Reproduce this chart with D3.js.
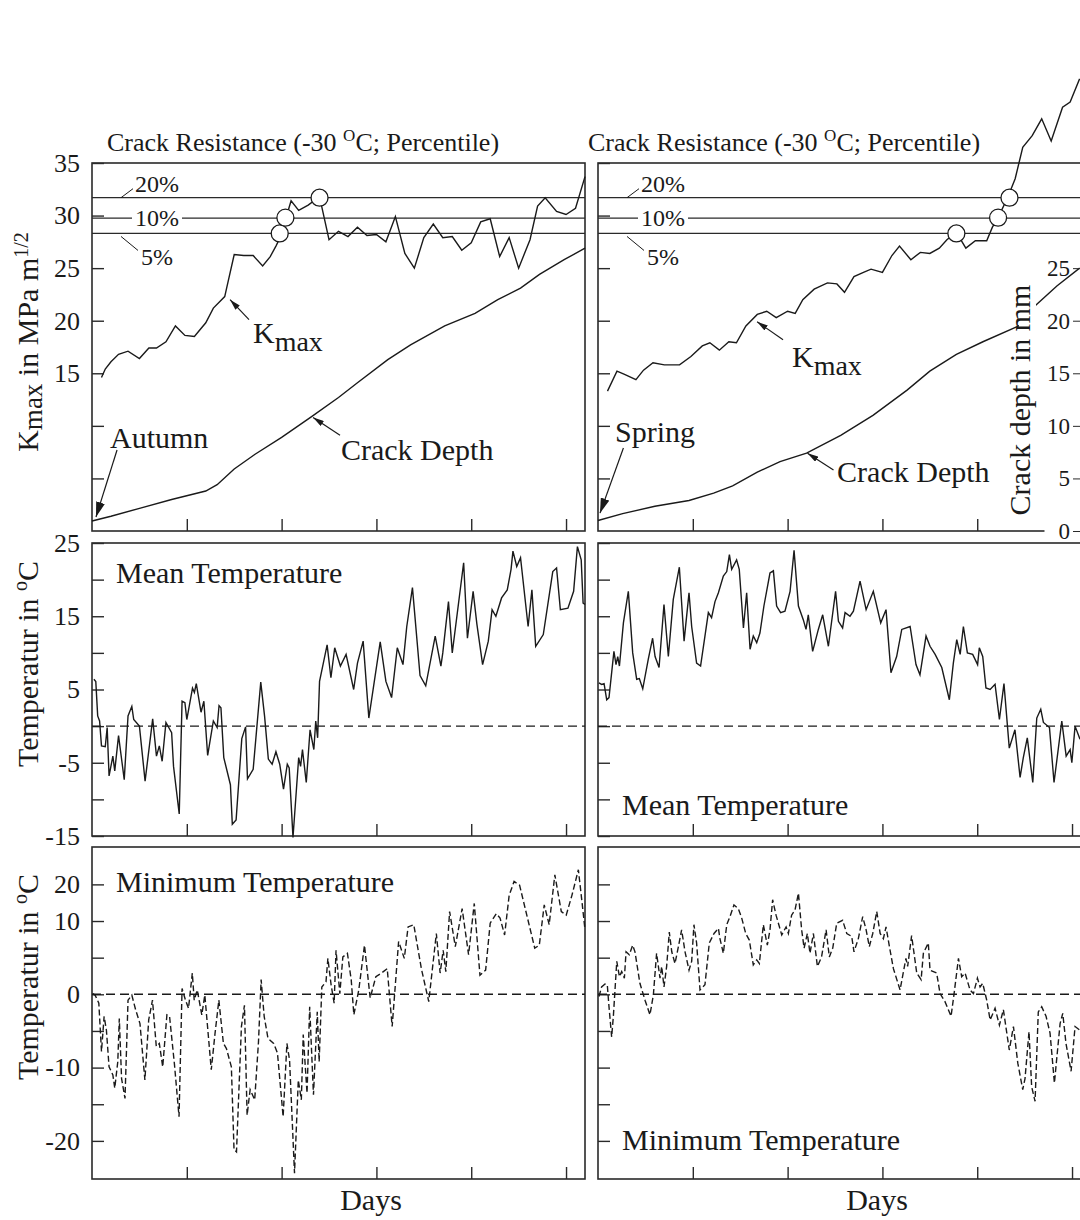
<!DOCTYPE html>
<html>
<head>
<meta charset="utf-8">
<script src="https://cdn.jsdelivr.net/npm/d3@7"></script>
<style>
  body { margin: 0; background: #fff; }
  svg { display: block; font-family: "Liberation Serif", "Times New Roman", serif; }
  text { fill: #1a1a1a; }
</style>
</head>
<body>
<svg id="chart"></svg>
<script>
"use strict";

// ---- values: [day, value] ----
var dayTicks = [50, 100, 150, 200, 250];

var percentiles = [
  { label: "20%", value: 31.7 },
  { label: "10%", value: 29.75 },
  { label: "5%", value: 28.3 }
];

var kmaxTicks = [5, 10, 15, 20, 25, 30, 35];
var kmaxTickLabels = ["", "", "15", "20", "25", "30", "35"];
var crackTicks = [0, 5, 10, 15, 20, 25];
var meanTicks = [-15, -10, -5, 0, 5, 10, 15, 20, 25];
var meanTickLabels = ["-15", "", "-5", "", "5", "", "15", "", "25"];
var minTicks = [-20, -15, -10, -5, 0, 5, 10, 15];
var minTickLabels = ["-20", "", "-10", "", "0", "", "10", "20"];

var kmaxAutumn = [[5,14.6],[7,15.4],[10,16.1],[14,16.8],[19,17.1],[25,16.4],[30,17.4],[34,17.4],[39,18.0],[44,19.5],[49,18.6],[54,18.5],[60,19.8],[64,21.2],[70,22.3],[71,23.1],[75,26.3],[80,26.2],[85,26.2],[90,25.2],[94,26.1],[97,27.1],[100,28.2],[102,29.6],[105,31.4],[109,30.5],[114,31.0],[120,31.8],[125,27.7],[130,28.5],[135,28.0],[140,28.9],[145,28.1],[150,28.2],[155,27.5],[160,29.9],[165,26.4],[170,25.0],[175,27.9],[180,29.2],[185,27.9],[190,28.0],[195,26.7],[200,27.4],[205,29.4],[210,29.7],[215,26.1],[220,27.9],[225,25.0],[231,27.7],[235,30.9],[239,31.7],[245,30.4],[250,30.1],[255,30.7],[260,33.7]];
var crackAutumn = [[0,0.95],[10,1.4],[26,2.2],[42,3.0],[60,3.8],[66,4.4],[75,5.9],[86,7.3],[100,8.9],[116,10.9],[130,12.7],[140,14.1],[156,16.3],[168,17.7],[186,19.5],[202,20.7],[214,22.0],[226,23.1],[236,24.4],[249,25.8],[260,26.9]];
var hitsAutumn = [[99,28.3],[102,29.8],[120,31.7]];

var kmaxSpring = [[5,13.3],[10,15.2],[14,14.9],[20,14.4],[24,15.3],[29,16.0],[35,15.8],[43,15.8],[49,16.6],[55,17.6],[59,17.9],[64,17.2],[69,18.0],[73,17.9],[78,19.5],[84,20.6],[89,20.9],[94,20.3],[100,20.9],[104,20.7],[108,22.0],[114,23.0],[121,23.6],[126,23.5],[130,22.7],[135,24.2],[140,24.6],[144,24.9],[150,24.6],[155,26.2],[159,27.1],[165,25.8],[170,26.5],[175,26.4],[180,26.9],[184,27.7],[189,28.4],[194,26.9],[199,27.6],[205,27.6],[208,28.9],[211,29.8],[216,31.7],[220,33.5],[224,36.5],[229,37.6],[234,39.2],[239,37.1],[245,40.3],[249,40.8],[254,43.0]];
var crackSpring = [[0,1.0],[13,1.65],[30,2.35],[48,2.9],[61,3.6],[71,4.3],[84,5.6],[96,6.6],[110,7.4],[128,9.1],[145,11.0],[163,13.4],[175,15.2],[189,16.8],[203,18.0],[223,19.6],[231,21.5],[242,23.3],[254,25.0]];
var hitsSpring = [[189,28.3],[211,29.8],[217,31.7]];

var meanAutumn = [[1,6.4],[2,6.1],[3,1.4],[4,0.7],[5,-2.7],[7,-2.8],[8,-0.2],[9,-6.8],[11,-4.1],[12,-6.1],[14,-1.3],[17,-7.3],[19,1.4],[21,2.7],[22,0.9],[25,0],[28,-7.5],[32,1.0],[34,-4.1],[35.5,-2.7],[37,-4.8],[39,0.5],[42,-0.9],[43,-5.5],[46,-12],[47.5,3.4],[49,3.2],[50,0.9],[53,5.2],[54,4.6],[55,5.8],[57.5,1.9],[59,3.4],[61,-4],[64,0.7],[66,-0.2],[67,2.8],[68,2.5],[69.5,-4.3],[73,-8],[74,-13.4],[76,-12.8],[79,-1.7],[81,-0.1],[82,-7.2],[85,-5.9],[89,6.0],[91,1.4],[93,-4.5],[95,-5.2],[97,-3.5],[99,-5.2],[101,-8.6],[103,-5.2],[104,-5.7],[106,-15.2],[109,-4.3],[110,-5.5],[111,-3.2],[113,-7.7],[115,-0.5],[117,-3.2],[118,0.7],[119,-1.6],[120,6.1],[122,8.6],[124,11.1],[126,6.6],[128,10.7],[131,8.2],[134,9.8],[138,5],[140,8.6],[143,11.6],[146,1.1],[152,11.5],[155,6.1],[158,3.9],[161,10.7],[164,8.4],[166,13.6],[169,18.9],[173,6.9],[176,5.5],[181,12.3],[184,8.2],[185,10.0],[188,17],[190,10],[196,22.3],[198,12],[201,18.4],[203,13.9],[206,8.4],[209,11.6],[211,15.9],[213,15],[216,17.5],[219,18.6],[221,21.4],[222,23.9],[224,21.8],[226,23],[230,13.6],[232,18.6],[234,10.9],[238,12.5],[243,21.1],[245,21.6],[247,15.9],[251,16.1],[254,18.4],[256,24.5],[258,22.7],[259,16.8],[260,16.6]];

var minAutumn = [[0.4,0.1],[1.6,-0.1],[3.6,-1.2],[5,-7.8],[6.4,-3],[7.6,-4.9],[9,-9.9],[11,-11],[12,-12.8],[13.6,-9.2],[14.4,-3.3],[15.6,-11.5],[17.4,-14.2],[19,-0.8],[21,-0.1],[23,-2.1],[25.3,-4],[27.9,-11.7],[29.9,-3.5],[31.9,-0.8],[33.9,-7.1],[35.5,-6.7],[37.3,-9.9],[39.5,-2.8],[40.9,-3.0],[43.5,-9.6],[45.9,-16.7],[47.5,0.8],[49.3,-0.8],[50.9,-1.9],[52.9,2.9],[53.9,-0.8],[55.5,0.6],[57.9,-2.8],[59.5,-0.1],[62.9,-10.3],[64.9,-5.3],[66.9,-0.8],[69.3,-6.7],[70.9,-7.4],[73.5,-9.9],[74.9,-21.2],[76.2,-21.5],[78.8,-4.4],[80.4,-1.5],[81.8,-16.5],[83.4,-13],[85.8,-14.4],[87.8,-6.5],[89.2,2.0],[90.8,-3.0],[92.8,-6],[95.8,-6.7],[97.8,-8],[100.8,-16.7],[102.8,-6.7],[104.2,-9],[106.8,-24.4],[108.8,-11.7],[110.4,-14.4],[111.4,-5.5],[113.4,-13.5],[114.8,-1.7],[116.8,-13.7],[118.8,-2.4],[119.8,-9.2],[121.2,1.0],[123.4,1.7],[124.4,4.9],[126.1,1.3],[127.7,-1.2],[128.7,6.0],[130.7,0.1],[132.3,5.1],[134.7,5.6],[136.7,2.0],[138.1,-2.8],[140.7,0.6],[143.7,6.7],[146.7,-0.5],[149.7,2.4],[152.7,2.9],[155.7,3.5],[158.3,-4.4],[161.7,7.2],[164.7,4.9],[166.7,9.2],[169.7,9.5],[173.7,3.5],[177.6,-1.0],[181.6,8.3],[183.6,2.9],[185.2,6.0],[186.6,3.1],[188.6,11.3],[191.6,6.5],[195.2,11.7],[198.6,5.4],[201.6,12.4],[204.6,2.6],[207.6,3.3],[210,9.7],[213.2,11],[215.2,10.4],[217.6,8.1],[220,13.5],[222.6,15.4],[225.5,14.9],[229.5,10.6],[233.5,6.3],[235.9,6.7],[238.5,12.2],[241.1,9.5],[244.1,16.3],[247.5,11.3],[250.1,10.8],[253.1,13.5],[256.5,17],[258.5,12.4],[260,8.8]];

var meanSpring = [[0.5,5.9],[1.9,5.7],[3.2,5.8],[4.6,3.6],[5.8,3.9],[8.4,10.2],[9.5,8.4],[10.4,9.5],[11.3,8.2],[13.4,14.1],[16,18.4],[18.3,10],[20.4,6.4],[21.8,6.5],[23.6,5.1],[26.5,9.1],[28.8,12],[30.1,9.5],[32.2,8],[34.8,16.6],[37.1,9.5],[39.7,17.3],[42.9,21.7],[45.4,11.6],[48,18.2],[49.4,13.6],[52,8.6],[54.1,8.2],[56.4,12.3],[58.2,15.5],[59.9,14.8],[61.7,17],[63.5,18.2],[66.1,20.5],[67.9,21.1],[69.3,23.4],[70.5,21.4],[73.1,22.7],[74.5,21.4],[76.7,13.4],[78.4,18.2],[80.2,10.5],[81.9,12.3],[83.7,11.4],[85.4,12.7],[87.5,16.4],[90.7,20.9],[92.5,21.2],[94.2,16.4],[96.3,15.5],[98.6,15.7],[101.3,18.4],[103.4,24],[105.7,16.4],[108.3,14.5],[109.7,13.2],[110.9,15.2],[113.2,10.2],[116.2,13.2],[118.5,15.2],[121.5,10.9],[125.3,18.4],[126.8,14.3],[129,13.4],[130.3,15.5],[132.9,15],[134.7,15.7],[138.2,19.8],[141.4,15.9],[145.2,18.4],[149.1,14.1],[151.9,15.9],[154.5,7.3],[157.5,9.5],[160.2,13.2],[164.6,13.6],[167.7,8.4],[169.8,7.0],[173,12.3],[175.1,10.9],[177.8,9.8],[181.3,8],[185.3,3.6],[187.4,8.6],[189.2,11.8],[191,9.8],[192.7,13.6],[194.8,10],[197.6,9.8],[200.2,8.4],[201.1,10.7],[202.9,9.5],[204.6,5.2],[206.8,5],[209.4,5.7],[211.7,0.9],[214.1,5.8],[216.9,-3],[219.9,-0.5],[222.6,-7],[224.3,-4.3],[226.4,-1.6],[229.3,-7.7],[231.4,1.1],[233.5,2.3],[234.9,0.5],[238.1,-0.2],[240.5,-7.7],[244.6,0.7],[246.9,-4.1],[249,-3.2],[249.9,-5],[251.6,0],[254.2,-1.8]];

var minSpring = [[0.5,-0.3],[1.9,1.0],[3.7,1.4],[4.9,1.3],[5.8,-1.7],[7.2,-5.8],[8.1,-3],[9.9,4.5],[11.3,2.4],[12.5,3.1],[13.9,2.2],[14.8,5.8],[16.5,5.4],[18.3,6.7],[19.5,5.8],[22.1,1.5],[24.8,-0.8],[27.4,-2.8],[29.2,-0.1],[30.9,5.6],[32.7,2.2],[33.6,3.8],[34.8,1.0],[36.2,3.8],[37.6,8.5],[38.9,5.8],[40.6,4.2],[42.4,6.5],[44.1,8.8],[45.9,5.8],[48,3.3],[49.4,4.5],[50.6,9.5],[52,7],[53.8,0.6],[56.4,1.3],[58.7,7],[61.2,8.3],[63.5,9],[64.3,7.6],[66.1,5.6],[67.9,9.5],[69.6,10.6],[71.7,12.2],[74,11.7],[75.8,10.4],[77.9,8.3],[79.8,7.4],[81.9,4],[83.7,4.7],[85.1,4.2],[87.2,9.5],[89.3,6.7],[90.7,8.8],[92.1,12.9],[93.9,10.8],[96.9,8.1],[99.2,9.2],[100.4,8.3],[102.1,10.8],[103.9,11.5],[105.7,13.8],[107.4,8.8],[108.7,6.3],[110.4,8.3],[111.8,5.6],[113.6,8.3],[115.7,3.8],[117.9,5.1],[120.3,8.8],[122,5.1],[123.8,6.3],[125.9,9.7],[129,10.1],[131.2,8.3],[133.8,7.9],[135,5.8],[137.3,7.6],[139.6,10.6],[141.4,8.8],[143.1,6.5],[144.9,8.3],[147,11.3],[148.8,8.3],[150.5,7.6],[151.9,9.2],[153.7,6.5],[155.8,3.5],[159.3,0.6],[162.4,4.9],[163.3,3.8],[165.4,8],[168.1,2.9],[170.4,2.0],[171.6,5.6],[174.2,7],[175.1,3.3],[178.6,2.9],[180.4,0.1],[183,-1.0],[186.2,-3],[187.8,0.1],[190.1,4.9],[191.8,2.4],[193.6,2.9],[196.2,0.6],[198,0.1],[200.1,2.2],[201.5,1.0],[202.9,1.5],[205,-0.8],[206.8,-3.5],[209.4,-1.9],[211.7,-4.2],[213.8,-2.1],[216.9,-7.6],[219.1,-4.4],[221.4,-9.4],[224,-13],[225.2,-11.5],[227.3,-5.1],[228.7,-12.6],[230.5,-14.6],[232.2,-2.4],[234,-1.7],[236.3,-3],[238.4,-5.3],[240.7,-12.1],[243.7,-4.0],[245.1,-2.6],[246.8,-6.7],[249.5,-10.5],[251.6,-4.4],[254.2,-4.9]];

// ---- layout ----
var W = 1080, H = 1220, colW = 493;
var ink = "#1a1a1a";

var svg = d3.select("#chart").attr("width", W).attr("height", H);

var yK = d3.scaleLinear().domain([0, 35]).range([531, 163]);
var yMean = d3.scaleLinear().domain([-15, 25]).range([836, 543]);
var yMin = d3.scaleLinear().domain([-25.2, 20.1]).range([1179, 847]);

var defs = svg.append("defs");
function addArrow(id, len, wid) {
  defs.append("marker").attr("id", id)
    .attr("markerUnits", "userSpaceOnUse")
    .attr("viewBox", "0 0 " + len + " " + wid)
    .attr("refX", len).attr("refY", wid / 2)
    .attr("markerWidth", len).attr("markerHeight", wid)
    .attr("orient", "auto")
    .append("path")
    .attr("d", "M0,0L" + len + "," + wid / 2 + "L0," + wid + "Z")
    .attr("fill", ink);
}
addArrow("arrowSmall", 11, 6);
addArrow("arrowBig", 15, 9);

var columns = [
  { x0: 92, labels: true, titleX: 107, kmax: kmaxAutumn, crack: crackAutumn, hits: hitsAutumn,
    mean: meanAutumn, min: minAutumn, labelsOnTop: true,
    season: { text: "Autumn", at: [9.5, 7.9], from: [13.2, 7.7], to: [2.1, 1.33] },
    kNote: { at: [84.9, 17.9], from: [82.8, 20.1], to: [72.8, 22.0] },
    cNote: { at: [131.3, 6.75], from: [130.8, 9.1], to: [116.6, 10.8] } },
  { x0: 598, labels: false, titleX: 588, kmax: kmaxSpring, crack: crackSpring, hits: hitsSpring,
    mean: meanSpring, min: minSpring, labelsOnTop: false,
    season: { text: "Spring", at: [9, 8.5], from: [13.4, 7.9], to: [1.05, 1.7] },
    kNote: { at: [102.3, 15.6], from: [97.6, 18.2], to: [83.9, 19.9] },
    cNote: { at: [126.1, 4.66], from: [124.2, 5.8], to: [110.5, 7.4] } }
];

function frame(g, x, y) {
  g.append("rect")
    .attr("x", x.range()[0]).attr("y", y.range()[1])
    .attr("width", x.range()[1] - x.range()[0])
    .attr("height", y.range()[0] - y.range()[1])
    .attr("fill", "none").attr("stroke", "#2a2a2a").attr("stroke-width", 1.6);
}

function axes(g, x, y, ticks, labels, showLabels) {
  g.append("g")
    .attr("transform", "translate(" + x.range()[0] + ",0)")
    .call(d3.axisLeft(y).tickValues(ticks).tickSize(-12).tickPadding(12)
      .tickFormat(function (d, i) { return showLabels ? labels[i] : ""; }))
    .call(function (a) { a.select(".domain").remove(); })
    .attr("font-size", 26).attr("font-family", null).attr("color", "#2a2a2a")
    .selectAll("line").attr("stroke-width", 1.4);

  g.append("g")
    .attr("transform", "translate(0," + y.range()[0] + ")")
    .call(d3.axisBottom(x).tickValues(dayTicks).tickSize(-12).tickFormat(""))
    .call(function (a) { a.select(".domain").remove(); })
    .attr("color", "#2a2a2a")
    .selectAll("line").attr("stroke-width", 1.4);
}

function note(g, x, y, from, to, marker) {
  g.append("line")
    .attr("x1", x(from[0])).attr("y1", y(from[1]))
    .attr("x2", x(to[0])).attr("y2", y(to[1]))
    .attr("stroke", ink).attr("stroke-width", 1.2)
    .attr("marker-end", "url(#" + marker + ")");
}

columns.forEach(function (col) {
  var g = svg.append("g");
  var x = d3.scaleLinear().domain([0, 260]).range([col.x0, col.x0 + colW]);
  var line = function (y) {
    return d3.line().x(function (d) { return x(d[0]); }).y(function (d) { return y(d[1]); });
  };

  // ===== top panel: Kmax and crack depth =====
  g.append("text")
    .attr("x", col.titleX).attr("y", 151)
    .attr("font-size", 26)
    .call(function (t) {
      t.append("tspan").text("Crack Resistance (-30 ");
      t.append("tspan").attr("font-size", 17).attr("dy", -10).text("O");
      t.append("tspan").attr("dy", 10).text("C; Percentile)");
    });

  frame(g, x, yK);
  axes(g, x, yK, kmaxTicks, kmaxTickLabels, col.labels);

  var xEnd = col.labels ? x.range()[1] : W;
  g.selectAll(".pct").data(percentiles).enter().append("line")
    .attr("x1", x.range()[0]).attr("x2", xEnd)
    .attr("y1", function (d) { return yK(d.value); })
    .attr("y2", function (d) { return yK(d.value); })
    .attr("stroke", "#2a2a2a").attr("stroke-width", 1.3);

  var x0 = col.x0;
  percentiles.forEach(function (p) {
    var py = yK(p.value);
    if (p.label === "20%") {
      g.append("line").attr("x1", x0 + 29).attr("y1", py).attr("x2", x0 + 41).attr("y2", py - 9)
        .attr("stroke", ink).attr("stroke-width", 1);
      g.append("text").attr("x", x0 + 43).attr("y", py - 6).attr("font-size", 24).text(p.label);
    } else if (p.label === "10%") {
      var t = g.append("text").attr("x", x0 + 43).attr("y", py + 8).attr("font-size", 24).text(p.label);
      var b = t.node().getBBox();
      g.insert("rect", function () { return t.node(); })
        .attr("x", b.x - 3).attr("y", py - 2).attr("width", b.width + 6).attr("height", 4)
        .attr("fill", "#fff");
    } else {
      g.append("line").attr("x1", x0 + 29).attr("y1", py + 3).attr("x2", x0 + 46).attr("y2", py + 17)
        .attr("stroke", ink).attr("stroke-width", 1);
      g.append("text").attr("x", x0 + 49).attr("y", py + 32).attr("font-size", 24).text(p.label);
    }
  });

  g.append("path").datum(col.crack).attr("d", line(yK))
    .attr("fill", "none").attr("stroke", ink).attr("stroke-width", 1.4);
  g.append("path").datum(col.kmax).attr("d", line(yK))
    .attr("fill", "none").attr("stroke", ink).attr("stroke-width", 1.4);

  g.selectAll(".hit").data(col.hits).enter().append("circle")
    .attr("cx", function (d) { return x(d[0]); })
    .attr("cy", function (d) { return yK(d[1]); })
    .attr("r", 8.5)
    .attr("fill", "#fff").attr("stroke", ink).attr("stroke-width", 1.3);

  // annotations
  g.append("text")
    .attr("x", x(col.season.at[0])).attr("y", yK(col.season.at[1]))
    .attr("font-size", 30).text(col.season.text);
  note(g, x, yK, col.season.from, col.season.to, "arrowBig");

  g.append("text")
    .attr("x", x(col.kNote.at[0])).attr("y", yK(col.kNote.at[1]))
    .attr("font-size", 30)
    .call(function (t) {
      t.append("tspan").text("K");
      t.append("tspan").attr("dy", 8).attr("font-size", 28).text("max");
    });
  note(g, x, yK, col.kNote.from, col.kNote.to, "arrowSmall");

  g.append("text")
    .attr("x", x(col.cNote.at[0])).attr("y", yK(col.cNote.at[1]))
    .attr("font-size", 30).text("Crack Depth");
  note(g, x, yK, col.cNote.from, col.cNote.to, "arrowSmall");

  // ===== middle panel: mean temperature =====
  frame(g, x, yMean);
  axes(g, x, yMean, meanTicks, meanTickLabels, col.labels);
  g.append("line")
    .attr("x1", x.range()[0]).attr("x2", x.range()[1])
    .attr("y1", yMean(0)).attr("y2", yMean(0))
    .attr("stroke", ink).attr("stroke-width", 1.4).attr("stroke-dasharray", "9,5");
  g.append("path").datum(col.mean).attr("d", line(yMean))
    .attr("fill", "none").attr("stroke", ink).attr("stroke-width", 1.4);
  g.append("text")
    .attr("x", x0 + 24)
    .attr("y", col.labelsOnTop ? yMean.range()[1] + 40 : yMean.range()[0] - 21)
    .attr("font-size", 30).text("Mean Temperature");

  // ===== bottom panel: minimum temperature =====
  frame(g, x, yMin);
  axes(g, x, yMin, minTicks, minTickLabels, col.labels);
  g.append("line")
    .attr("x1", x.range()[0]).attr("x2", x.range()[1])
    .attr("y1", yMin(0)).attr("y2", yMin(0))
    .attr("stroke", ink).attr("stroke-width", 1.4).attr("stroke-dasharray", "9,5");
  g.append("path").datum(col.min).attr("d", line(yMin))
    .attr("fill", "none").attr("stroke", ink).attr("stroke-width", 1.4)
    .attr("stroke-dasharray", "6,3");
  g.append("text")
    .attr("x", x0 + 24)
    .attr("y", col.labelsOnTop ? yMin.range()[1] + 45 : yMin.range()[0] - 29)
    .attr("font-size", 30).text("Minimum Temperature");

  g.append("text")
    .attr("x", x0 + 279).attr("y", 1210)
    .attr("text-anchor", "middle").attr("font-size", 30).text("Days");

  // right-hand crack depth scale (spring column only)
  if (!col.labels) {
    var ca = g.append("g")
      .attr("transform", "translate(1082,0)")
      .call(d3.axisLeft(yK).tickValues(crackTicks).tickSize(9).tickPadding(3))
      .call(function (a) { a.select(".domain").remove(); })
      .attr("font-size", 23).attr("font-family", null).attr("color", "#2a2a2a");
    ca.selectAll(".tick").filter(function (d) { return d === 0; })
      .each(function () {
        var tk = d3.select(this);
        var bb = tk.select("text").node().getBBox();
        tk.insert("rect", ":first-child")
          .attr("x", bb.x - 14).attr("y", -16).attr("width", bb.width + 30).attr("height", 22)
          .attr("fill", "#fff");
      });

    var lab = g.append("g").attr("transform", "translate(1030," + 400 + ") rotate(-90)");
    var lt = lab.append("text").attr("text-anchor", "middle").attr("font-size", 30).text("Crack depth in mm");
    var lb = lt.node().getBBox();
    lab.insert("rect", "text")
      .attr("x", lb.x - 2).attr("y", -11).attr("width", lb.width + 4).attr("height", lb.y + lb.height + 11)
      .attr("fill", "#fff");
  }
});

// ---- y-axis titles (left side) ----
function yTitle(cy, build) {
  svg.append("text")
    .attr("transform", "translate(38," + cy + ") rotate(-90)")
    .attr("text-anchor", "middle").attr("font-size", 30)
    .call(build);
}
yTitle(342, function (t) {
  t.append("tspan").text("K");
  t.append("tspan").attr("dy", 4).attr("font-size", 27).text("max");
  t.append("tspan").attr("dy", -4).text(" in MPa m");
  t.append("tspan").attr("dy", -10).attr("font-size", 20).text("1/2");
});
[664, 977].forEach(function (cy) {
  yTitle(cy, function (t) {
    t.append("tspan").text("Temperatur in ");
    t.append("tspan").attr("dy", -11).attr("font-size", 20).text("o");
    t.append("tspan").attr("dy", 11).text("C");
  });
});
</script>
</body>
</html>
